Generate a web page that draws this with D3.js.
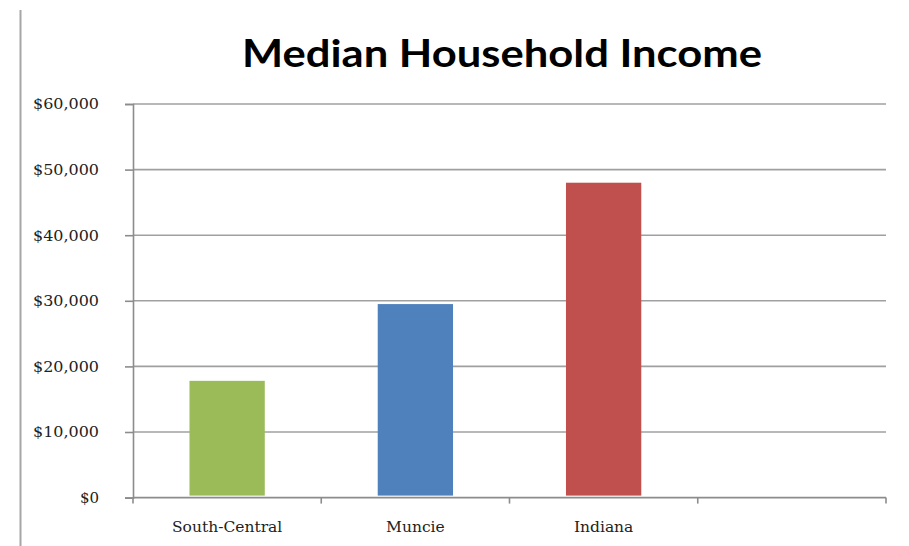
<!DOCTYPE html>
<html>
<head>
<meta charset="utf-8">
<script src="https://cdn.jsdelivr.net/npm/d3@7"></script>
<style>
  html, body { margin: 0; padding: 0; background: #fff; }
  svg { display: block; }
</style>
</head>
<body>
<svg id="chart" width="909" height="546"></svg>
<script>
// Chart data
const categories = ["South-Central", "Muncie", "Indiana", ""];
const incomes = [17800, 29500, 48000, null];
const barColors = ["#9bbb59", "#4f81bd", "#c0504d", "none"];
const yTicks = [0, 10000, 20000, 30000, 40000, 50000, 60000];
const titleText = "Median Household Income";

const W = 909, H = 546;
const plot = { left: 133, right: 886, top: 104, bottom: 497.6 };

const svg = d3.select("#chart");

// Left border line of the chart frame
svg.append("line")
  .attr("x1", 20.5).attr("x2", 20.5)
  .attr("y1", 10).attr("y2", H)
  .attr("stroke", "#a6a6a6").attr("stroke-width", 2);

const x = d3.scaleBand()
  .domain(categories.map((c, i) => i))
  .range([plot.left, plot.right])
  .paddingInner(0.6)
  .paddingOuter(0.3);

const y = d3.scaleLinear()
  .domain([0, 60000])
  .range([plot.bottom, plot.top]);

// Horizontal gridlines
svg.append("g")
  .selectAll("line")
  .data(yTicks.filter(t => t > 0))
  .join("line")
  .attr("x1", plot.left).attr("x2", plot.right)
  .attr("y1", d => y(d)).attr("y2", d => y(d))
  .attr("stroke", "#a0a0a0").attr("stroke-width", 1.6);

// Bars
svg.append("g")
  .selectAll("rect")
  .data(incomes.map((v, i) => ({ v, i })).filter(d => d.v != null))
  .join("rect")
  .attr("x", d => x(d.i))
  .attr("width", x.bandwidth())
  .attr("y", d => y(d.v))
  .attr("height", d => y(0) - y(d.v) - 2)
  .attr("fill", d => barColors[d.i]);

// Y axis
const yAxis = d3.axisLeft(y)
  .tickValues(yTicks)
  .tickSize(8)
  .tickPadding(26)
  .tickFormat(d => "$" + d3.format(",")(d));

const gy = svg.append("g")
  .attr("transform", `translate(${plot.left},0)`)
  .call(yAxis);
gy.select(".domain").attr("stroke", "#8c8c8c").attr("stroke-width", 1.6);
gy.selectAll(".tick line").attr("stroke", "#8c8c8c").attr("stroke-width", 1.6);
gy.selectAll(".tick text")
  .attr("fill", "#222")
  .style("font-family", "'DejaVu Serif', serif")
  .style("font-size", "15px")
  .attr("textLength", d => d === 0 ? null : 66)
  .attr("lengthAdjust", "spacingAndGlyphs");

// X axis: ticks sit on category boundaries
const step = x.step();
const boundaries = d3.range(categories.length + 1).map(i => plot.left + i * step);
const gx = svg.append("g");
gx.append("line")
  .attr("x1", plot.left).attr("x2", plot.right)
  .attr("y1", plot.bottom).attr("y2", plot.bottom)
  .attr("stroke", "#8c8c8c").attr("stroke-width", 1.6);
gx.selectAll("line.tk")
  .data(boundaries)
  .join("line")
  .attr("class", "tk")
  .attr("x1", d => d).attr("x2", d => d)
  .attr("y1", plot.bottom).attr("y2", plot.bottom + 6)
  .attr("stroke", "#8c8c8c").attr("stroke-width", 1.6);
gx.selectAll("text")
  .data(categories.map((c, i) => ({ c, i })).filter(d => d.c))
  .join("text")
  .attr("x", d => x(d.i) + x.bandwidth() / 2)
  .attr("y", 532)
  .attr("text-anchor", "middle")
  .attr("fill", "#222")
  .style("font-family", "'DejaVu Serif', serif")
  .style("font-size", "15.5px")
  .text(d => d.c);

// Title
const title = svg.append("text")
  .attr("x", 502)
  .attr("y", 67)
  .attr("text-anchor", "middle")
  .attr("fill", "#000")
  .style("font-family", "Lato, 'DejaVu Sans', sans-serif")
  .style("font-weight", "bold")
  .style("font-size", "38px")
  .text(titleText);
title.attr("textLength", 520).attr("lengthAdjust", "spacingAndGlyphs");
</script>
</body>
</html>
